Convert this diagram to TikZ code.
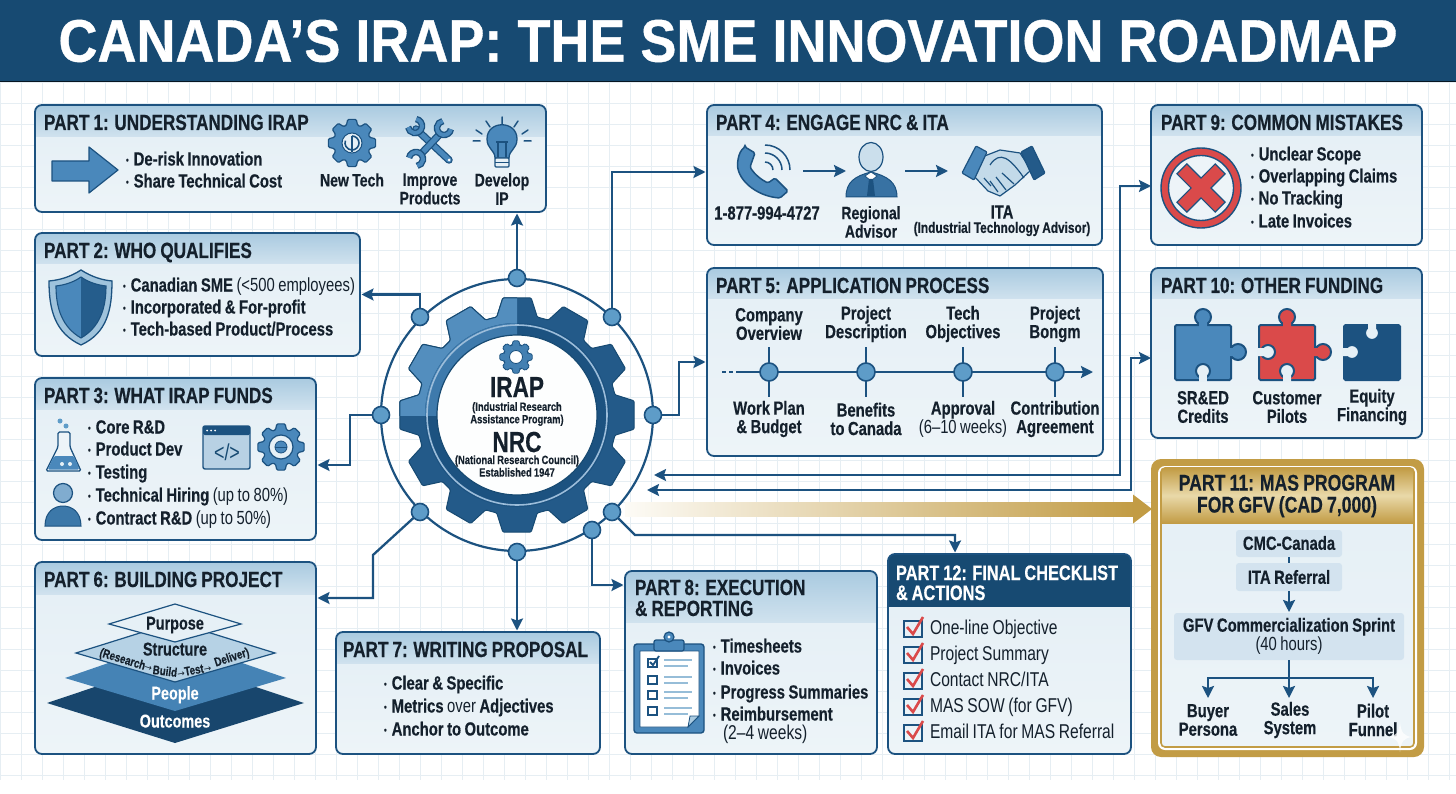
\documentclass[tikz,border=0pt]{standalone}
\usepackage{fontspec}
\setmainfont[FakeStretch=0.78,WordSpace=0.85,BoldFeatures={FakeBold=0.35}]{Liberation Sans}
\newfontfamily\titlefont[FakeStretch=0.9,BoldFeatures={FakeBold=0.6}]{Liberation Sans}
\newfontfamily\arrfont{DejaVu Sans}
\usetikzlibrary{arrows.meta,calc}
\definecolor{ink}{HTML}{14202C}
\definecolor{navy}{HTML}{174A72}
\definecolor{line}{HTML}{1C5280}
\definecolor{mid}{HTML}{4A88BB}
\definecolor{dot}{HTML}{5E9CC8}
\definecolor{gridc}{HTML}{E6EEF3}
\definecolor{hdrA}{HTML}{A9CAE0}
\definecolor{hdrB}{HTML}{D0E2EE}
\definecolor{bodyA}{HTML}{E6F0F6}
\definecolor{bodyB}{HTML}{EDF4F8}
\definecolor{gold}{HTML}{C29C45}
\definecolor{goldL}{HTML}{E9D9A9}
\definecolor{red1}{HTML}{DA4A4A}
\definecolor{soft}{HTML}{D3E3EF}
\newcounter{tn}
\tikzset{
  txt/.style={inner sep=0,outer sep=0,align=center,text=ink,font=\bfseries\fontsize{19}{18.5}\selectfont},
  reg/.style={inner sep=0,outer sep=0,align=left,text=ink,font=\fontsize{20}{18.5}\selectfont},
  ttl/.style={inner sep=0,outer sep=0,anchor=base west,yshift=-8pt,align=left,text=ink,font=\bfseries\fontsize{22}{21}\selectfont},
  blt/.style={inner sep=0,outer sep=0,anchor=base west,yshift=-6.5pt,align=left,text=ink,font=\bfseries\fontsize{19}{18.5}\selectfont},
  panelbox/.style={draw=line,line width=1.8pt,rounded corners=7pt,inner sep=0,outer sep=0,anchor=north west},
  conn/.style={draw=line,line width=2.3pt,-{Stealth[length=12pt,width=12pt,inset=2pt]},shorten >=1.5pt},
  conn2/.style={draw=line,line width=2.3pt,{Stealth[length=12pt,width=12pt,inset=2pt]}-{Stealth[length=12pt,width=12pt,inset=2pt]}},
  plain/.style={draw=line,line width=2.3pt},
  hubdot/.style={circle,fill=dot,draw=line,line width=1.6pt,minimum size=17pt,inner sep=0,outer sep=0},
  tdot/.style={circle,fill=dot,draw=line,line width=1.6pt,minimum size=18pt,inner sep=0,outer sep=0},
  ico/.style={fill=mid,draw=line,line width=1.2pt,line join=round},
  softbox/.style={fill=soft,rounded corners=3pt,inner sep=0,outer sep=0,anchor=north west},
  big/.style={font=\bfseries\fontsize{29}{29}\selectfont,text height=20pt,text depth=0pt},
  small/.style={font=\bfseries\fontsize{12}{12.5}\selectfont},
  lab/.style={font=\bfseries\fontsize{18}{18.5}\selectfont},
  pyr/.style={font=\bfseries\fontsize{18.5}{18.5}\selectfont,text height=13pt,text depth=0pt},
  pyrs/.style={font=\bfseries\fontsize{12.5}{12.5}\selectfont},
}
\newcommand\T[4][]{\stepcounter{tn}\node[txt,#1] (t\arabic{tn}) at (#2,#3) {#4};}
\newcommand\R[4][]{\stepcounter{tn}\node[reg,#1] (t\arabic{tn}) at (#2,#3) {#4};}
\newcommand\bu{\raisebox{2pt}{\fontsize{10}{10}\selectfont\textbullet}\hspace{5pt}}
\newcommand\ar{{\arrfont\mdseries\fontsize{9}{9}\selectfont →}}
\newcommand\B[3]{\stepcounter{tn}\node[blt] (t\arabic{tn}) at (#1,#2) {\bu #3};}
\newcommand\Ttl[4][]{\stepcounter{tn}\node[ttl,#1] (t\arabic{tn}) at (#2,#3) {#4};}
\newcommand\rg[1]{{\mdseries #1}}
\newcommand\panel[6]{%
  \begin{scope}
    \clip[rounded corners=7pt] (#2,#3) rectangle (#4,#5);
    \fill[top color=bodyA,bottom color=bodyB] (#2,#6) rectangle (#4,#5);
    \fill[top color=hdrA,bottom color=hdrB] (#2,#3) rectangle (#4,#6);
  \end{scope}
  \pgfmathsetmacro\pw{#4-#2}\pgfmathsetmacro\ph{#5-#3}
  \node[panelbox,minimum width=\pw pt,minimum height=\ph pt] (#1) at (#2,#3) {};
}
\newcommand\drawgear[6]{%
  \pgfmathsetmacro\gst{360/#6}
  \begin{scope}[shift={(#2,#3)}]
    \path[#1,rounded corners=1.2pt] ({-90-\gst/2}:#5)
      \foreach \i in {1,...,#6}{
        -- ({-90+(\i-1)*\gst-.39*\gst}:#5)
        -- ({-90+(\i-1)*\gst-.23*\gst}:#4)
        -- ({-90+(\i-1)*\gst+.23*\gst}:#4)
        -- ({-90+(\i-1)*\gst+.39*\gst}:#5)
      } -- cycle;
  \end{scope}
}
\newcommand\jaw[4]{%
  \draw[line,line width=6.5pt] ($(#1,#2)+(#3+55:#4)$) arc[start angle=#3+55,end angle=#3+305,radius=#4];
  \draw[mid,line width=3.8pt] ($(#1,#2)+(#3+55:#4)$) arc[start angle=#3+55,end angle=#3+305,radius=#4];
}
\newcommand\piece[3]{\filldraw[#3,draw=line,line width=2pt,rounded corners=1.5pt] (#1,#2) rectangle ++(56,55);}
\begin{document}
\begin{tikzpicture}[x=1pt,y=-1pt]
\useasboundingbox (0,0) rectangle (1456,794);
\fill[white] (0,0) rectangle (1456,794);
\foreach \x in {0,21,...,1456}{\draw[gridc,line width=.7pt] (\x,82) -- (\x,780);}
\foreach \y in {82,103,...,780}{\draw[gridc,line width=.7pt] (0,\y) -- (1456,\y);}
% title
\fill[navy] (0,0) rectangle (1456,82);
\draw[line width=1pt,black!70!navy] (0,82) -- (1456,82);
\node[inner sep=0,text=white,font=\titlefont\bfseries\fontsize{60}{60}\selectfont] (title) at (728,41) {CANADA’S IRAP: THE SME INNOVATION ROADMAP};

% panels
\panel{p1}{35}{105}{546}{212}{137}
\panel{p2}{35}{233}{360}{356}{264}
\panel{p3}{35}{378}{316}{540}{409}
\panel{p6}{35}{562}{316}{754}{594}
\panel{p7}{336}{632}{600}{754}{663}
\panel{p8}{625}{571}{877}{754}{622}
\panel{p4}{707}{105}{1102}{245}{136}
\panel{p5}{707}{268}{1103}{456}{299}
\panel{p9}{1151}{105}{1422}{245}{136}
\panel{p10}{1151}{268}{1422}{438}{299}
\begin{scope}
  \clip[rounded corners=7pt] (888,554) rectangle (1131,754);
  \fill[top color=bodyA,bottom color=bodyB] (888,607) rectangle (1131,754);
  \fill[navy] (888,554) rectangle (1131,607);
\end{scope}
\node[panelbox,minimum width=243pt,minimum height=200pt] (p12) at (888,554) {};
\fill[gold,rounded corners=10pt] (1151,459) rectangle (1424,757);
\fill[white,rounded corners=7pt] (1158,466) rectangle (1417,750);
\begin{scope}
  \clip[rounded corners=4pt] (1161,468) rectangle (1414,747);
  \fill[top color=bodyA,bottom color=bodyB] (1161,523) rectangle (1414,747);
  \shade[top color=gold,bottom color=gold,middle color=goldL] (1161,468) rectangle (1414,523);
\end{scope}
\node[panelbox,draw=gold,line width=1.6pt,rounded corners=4pt,minimum width=253pt,minimum height=279pt] (p11) at (1161,468) {};

% hub
\node[circle,draw=line,line width=2.2pt,minimum size=272pt,inner sep=0] (ring) at (517,415) {};
\drawgear{fill=line!85!mid,draw=navy,line width=1pt}{517}{415}{118}{100}{12}
\begin{scope}
  \clip (392,290) rectangle (517,415);
  \drawgear{fill=mid!95!white,draw=navy,line width=1pt}{517}{415}{118}{100}{12}
\end{scope}
\fill[line] (517,415) circle[radius=92];
\begin{scope}
  \clip (425,323) rectangle (517,415);
  \fill[mid!75!line] (517,415) circle[radius=92];
\end{scope}
\draw[white!45!mid,line width=1.6pt] (517,415) circle[radius=90];
\node[circle,fill=white!92!bodyA,draw=navy,line width=1.2pt,minimum size=160pt,inner sep=0] (core) at (517,415) {};
\drawgear{fill=mid!85!line,draw=line,line width=.8pt}{516}{357}{16.5}{12.5}{8}
\fill[white,draw=line,line width=.8pt] (516,357) circle[radius=6.5];
\T[big]{517}{387}{IRAP}
\T[small]{517}{414}{(Industrial Research\\Assistance Program)}
\T[big]{517}{442}{NRC}
\T[small]{517}{466}{(National Research Council)\\Established 1947}
\node[hubdot] (d1) at (517,278) {};
\node[hubdot] (d2) at (420,317) {};
\node[hubdot] (d3) at (612,317) {};
\node[hubdot] (d4) at (381,415) {};
\node[hubdot] (d5) at (653,415) {};
\node[hubdot] (d6) at (420,512) {};
\node[hubdot] (d7) at (612,512) {};
\node[hubdot] (d8) at (517,552) {};
\node[hubdot] (d9) at (592,530) {};

\coordinate (w1) at (350,465);
\coordinate (w2a) at (373,555);
\coordinate (w2b) at (373,598);
\coordinate (w3) at (592,585);
\coordinate (w4) at (635,535);
\coordinate (w4b) at (955,535);
\coordinate (w5) at (612,172);
\coordinate (w6) at (679,362);
\coordinate (h1) at (654,475);
\coordinate (h2) at (647,490);
\coordinate (v1a) at (1120,475);
\coordinate (v1b) at (1120,186);
\coordinate (v2a) at (1131,490);
\coordinate (v2b) at (1131,358);
\draw[conn] (d1) -- (d1 |- p1.south);
\draw[conn] (d2) |- (p2.east);
\draw[conn] (d4) -| (w1) -- (w1 -| p3.east);
\draw[conn] (d6) -- (w2a) -- (w2b) -- (w2b -| p6.east);
\draw[conn] (d8) -- (d8 |- p7.north);
\draw[conn] (d9) -- (w3) -- (w3 -| p8.west);
\draw[conn] (d7) -- (w4) -- (w4b) -- (w4b |- p12.north);
\draw[conn] (d3) -- (w5) -- (w5 -| p4.west);
\draw[conn] (d5) -| (w6) -- (w6 -| p5.west);
\draw[conn2] (h1) -- (v1a) -- (v1b) -- (v1b -| p9.west);
\draw[conn2] (h2) -- (v2a) -- (v2b) -- (v2b -| p10.west);
% gold arrow
\shade[left color=white!90!goldL,right color=gold] (625,502) rectangle (1134,516);
\coordinate (gt) at (1152,509);
\fill[gold] (1133,494.5) -- (gt) -- (1133,523.5) -- cycle;

% P1
\Ttl{44}{122}{PART 1: UNDERSTANDING IRAP}
\draw[ico] (52,161) -- (89,161) -- (89,147) -- (118,170) -- (89,193) -- (89,181) -- (52,181) -- cycle;
\B{126}{159}{De-risk Innovation}
\B{126}{181}{Share Technical Cost}
\drawgear{ico}{352}{143}{24}{18.5}{8}
\fill[bodyA,draw=line,line width=1pt] (352,143) circle[radius=10];
\draw[line,line width=1.6pt] (352,136) arc[start angle=-90,end angle=200,radius=7];
\draw[line,line width=1.6pt] (352,152) -- (352,136);
\T[lab]{352}{180}{New Tech}
\draw[line,line width=7.5pt,line cap=round] (416,129) -- (449,160);
\draw[mid,line width=5pt,line cap=round] (416,129) -- (449,160);
\fill[white] (449,160) circle[radius=1.5];
\jaw{415}{126}{-135}{7}
\draw[line,line width=7.5pt] (441,133) -- (420,155);
\draw[mid,line width=5pt] (441,133) -- (420,155);
\jaw{444}{128}{-45}{7}
\jaw{416}{159}{135}{7}
\T[lab]{430}{189}{Improve\\Products}
\draw[line,line width=1.5pt,line cap=round]
  (502,124)--(502,117) (490,127)--(486,121) (514,127)--(518,121)
  (482,134)--(476,130) (522,134)--(528,130) (480,141)--(473,141) (524,141)--(531,141);
\fill[mid,draw=line,line width=1.3pt] (495,158) .. controls (495,150) and (487,149) .. (487,139) .. controls (487,120) and (517,120) .. (517,139) .. controls (517,149) and (509,150) .. (509,158) -- cycle;
\draw[line,line width=1.2pt] (498,158) -- (498,142) (506,158) -- (506,142) (496,142) -- (508,142);
\fill[bodyA,draw=line,line width=1.2pt,rounded corners=1pt] (495,158) rectangle (509,167);
\draw[line,line width=1pt] (495,162.5) -- (509,162.5);
\T[lab]{502}{189}{Develop\\IP}

% P2
\Ttl{44}{250}{PART 2: WHO QUALIFIES}
\fill[hdrA!90!mid,draw=line,line width=1.3pt] (81,270) .. controls (70,277) and (60,280) .. (49,281) .. controls (49,310) and (55,333) .. (81,345) .. controls (107,333) and (112,310) .. (112,281) .. controls (102,280) and (92,277) .. (81,270) -- cycle;
\fill[mid] (81,277) .. controls (74,282) and (65,285) .. (56,286) .. controls (56,308) and (62,327) .. (81,338) -- cycle;
\fill[line!80!mid] (81,277) .. controls (88,282) and (97,285) .. (106,286) .. controls (106,308) and (100,327) .. (81,338) -- cycle;
\draw[line,line width=1.1pt] (81,277) .. controls (74,282) and (65,285) .. (56,286) .. controls (56,308) and (62,327) .. (81,338) .. controls (100,327) and (106,308) .. (106,286) .. controls (97,285) and (88,282) .. (81,277) -- cycle;
\B{123}{285}{Canadian SME \rg{(<500 employees)}}
\B{123}{307}{Incorporated \& For-profit}
\B{123}{329}{Tech-based Product/Process}

% P3
\Ttl{44}{395}{PART 3: WHAT IRAP FUNDS}
\fill[dot] (60,421) circle[radius=2.5] (66,426) circle[radius=2.5];
\fill[bodyB,draw=line,line width=1.3pt,rounded corners=1.5pt] (58,432) -- (70,432) -- (70,447) -- (81,471) -- (46,471) -- (58,447) -- cycle;
\fill[mid,rounded corners=1.5pt] (54,456) -- (74,456) -- (79.5,469.5) -- (47.5,469.5) -- cycle;
\fill[bodyA] (62,464) circle[radius=2] (70,464) circle[radius=2];
\B{88}{427}{Core R\&D}
\B{88}{449}{Product Dev}
\B{88}{472}{Testing}
\B{88}{495}{Technical Hiring \rg{(up to 80\%)}}
\B{88}{518}{Contract R\&D \rg{(up to 50\%)}}
\fill[soft!80!mid,draw=line,line width=1.4pt,rounded corners=2pt] (203,426) rectangle (250,469);
\fill[line,rounded corners=1.5pt] (203,426) rectangle (250,435);
\fill[white] (207,430.5) circle[radius=1] (211,430.5) circle[radius=1] (215,430.5) circle[radius=1];
\R[font=\fontsize{23}{23}\selectfont,text=navy]{227}{452}{</>}
\drawgear{ico}{281}{447}{23.5}{18}{8}
\fill[bodyA,draw=line,line width=1.2pt] (281,447) circle[radius=12];
\fill[mid,draw=line,line width=.8pt] (281,447) circle[radius=6];
\draw[line,line width=.9pt] (275,447) -- (287,447);
\fill[white!30!mid,draw=line,line width=1.2pt] (63,493) circle[radius=9.5];
\fill[mid!70!line,draw=line,line width=1pt] (45,526) .. controls (45,512) and (54,506) .. (63,506) .. controls (72,506) and (81,512) .. (81,526) -- cycle;

% P6
\Ttl{44}{579}{PART 6: BUILDING PROJECT}
\fill[line!85!black] (47,703) -- (175,660) -- (304,703) -- (175,743) -- cycle;
\fill[mid!90!line] (65,678) -- (175,640) -- (286,678) -- (175,711) -- cycle;
\fill[hdrA!85!white,draw=line,line width=1.2pt] (76,653) -- (175,622) -- (275,653) -- (175,682) -- cycle;
\fill[bodyA,draw=line,line width=1.2pt] (109,624) -- (175,604) -- (241,624) -- (175,642) -- cycle;
\T[pyr]{175}{623}{Purpose}
\T[pyr]{175}{649}{Structure}
\T[pyrs,rotate=-17]{126}{661}{(Research\ar}
\T[pyrs,rotate=-7]{165}{671}{Build}
\T[pyrs,rotate=10]{194}{670}{\ar Test\ar}
\T[pyrs,rotate=18]{232}{658}{Deliver)}
\T[pyr,text=white]{175}{693}{People}
\T[pyr,text=white]{175}{721}{Outcomes}

% P7
\Ttl{343}{649}{PART 7: WRITING PROPOSAL}
\B{384}{683}{Clear \& Specific}
\B{384}{706}{Metrics \rg{over} Adjectives}
\B{384}{729}{Anchor to Outcome}

% P8
\Ttl{635}{587}{PART 8: EXECUTION}
\Ttl{635}{608}{\& REPORTING}
\fill[mid,draw=line,line width=1.4pt,rounded corners=3pt] (634,644) rectangle (704,733);
\fill[white,draw=line,line width=.8pt] (640,651) -- (699,651) -- (699,716) -- (688,727) -- (640,727) -- cycle;
\fill[hdrA,draw=line,line width=.8pt] (688,727) -- (690,716) -- (699,716) -- cycle;
\fill[mid,draw=line,line width=1.2pt,rounded corners=2pt] (654,640) rectangle (684,651);
\fill[mid,draw=line,line width=1.2pt] (669,637) circle[radius=5];
\fill[white] (669,637) circle[radius=1.6];
\foreach \yy in {663,680,695,711}{
  \draw[line,line width=1.2pt] (648,{\yy-4}) rectangle (657,{\yy+4});
  \draw[hdrA!80!mid,line width=1.2pt] (664,{\yy-3}) -- (692,{\yy-3}) (664,{\yy+3}) -- (688,{\yy+3});
}
\draw[line,line width=1.8pt] (650,662) -- (653,665) -- (659,656);
\B{713}{646}{Timesheets}
\B{713}{668}{Invoices}
\B{713}{692}{Progress Summaries}
\B{713}{714}{Reimbursement}
\R[anchor=base west,yshift=-6.5pt]{723}{733}{(2–4 weeks)}

% P12
\Ttl[text=white,font=\bfseries\fontsize{21}{21}\selectfont]{896}{572}{PART 12: FINAL CHECKLIST}
\Ttl[text=white,font=\bfseries\fontsize{21}{21}\selectfont]{896}{592}{\& ACTIONS}
\foreach \yy/\tx in {628/{One-line Objective},654/{Project Summary},680/{Contact NRC/ITA},706/{MAS SOW (for GFV)},732/{Email ITA for MAS Referral}}{
  \draw[line,line width=1.3pt] (904,{\yy-7}) rectangle (922,{\yy+9});
  \draw[red1,line width=2.6pt] (907,{\yy-1}) -- (913,{\yy+6}) -- (923,{\yy-11});
  \R[anchor=base west,yshift=-6.5pt]{930}{\yy}{\tx}
}

% P4
\Ttl{716}{122}{PART 4: ENGAGE NRC \& ITA}
\fill[mid,draw=line,line width=1.5pt,rounded corners=1.5pt] (745,147) -- (755,153) -- (750,167) .. controls (755,175) and (762,180) .. (768,183) -- (775,178) -- (788,191) -- (780,198) .. controls (755,196) and (735,178) .. (738,160) .. controls (739,154) and (741,150) .. cycle;
\draw[line,line width=1.5pt] (765,145) arc[start angle=-90,end angle=0,radius=25]
  (765,153) arc[start angle=-90,end angle=0,radius=17]
  (765,162) arc[start angle=-90,end angle=0,radius=8];
\T{767}{213}{1-877-994-4727}
\coordinate (ph) at (803,171);
\coordinate (ad) at (846,171);
\coordinate (ad2) at (905,171);
\coordinate (ha) at (948,171);
\draw[conn,shorten >=0pt] (ph) -- (ad);
\draw[conn,shorten >=0pt] (ad2) -- (ha);
\fill[mid!60!line,draw=line,line width=1pt] (846,197) .. controls (846,182) and (855,176) .. (871,172) .. controls (887,176) and (897,182) .. (897,197) -- cycle;
\fill[white,draw=line,line width=.8pt] (865,176) -- (871,181) -- (877,176) -- (871,172) -- cycle;
\fill[line] (869,179) -- (873,179) -- (875,196) -- (867,196) -- cycle;
\fill[white!40!hdrA,draw=line,line width=1.2pt] (871,157) ellipse[x radius=12,y radius=14.5];
\T[lab]{871}{222}{Regional\\Advisor}
\fill[hdrA!70!white,draw=line,line width=1.2pt,line join=round] (982,157) -- (1000,150) -- (1020,153) -- (1031,170) -- (1015,185) -- (1000,196) -- (988,191) -- (973,175) -- cycle;
\draw[line,line width=1.2pt] (990,165) .. controls (1000,150) and (1010,158) .. (1024,178)
 (991,186) -- (984,178) (998,192) -- (990,181) (1006,190) -- (996,177) (1014,184) -- (1002,173);
\fill[mid,draw=line,line width=1.2pt,rounded corners=1pt] (962,173) -- (976,146) -- (987,152) -- (974,180) -- cycle;
\fill[line!85!mid,draw=line,line width=1.2pt,rounded corners=1pt] (1032,146) -- (1045,173) -- (1034,180) -- (1021,152) -- cycle;
\T{1002}{212}{ITA}
\T[font=\bfseries\fontsize{15.2}{15.5}\selectfont]{1002}{229}{(Industrial Technology Advisor)}

% P5
\Ttl{716}{285}{PART 5: APPLICATION PROCESS}
\coordinate (tl0) at (737,372);
\coordinate (tl1) at (1093,372);
\draw[line,line width=2.4pt,dash pattern=on 4pt off 3pt] (722,372) -- (tl0);
\foreach \xx in {769,866,963,1055}{\draw[line,line width=2pt] (\xx,347) -- (\xx,397);}
\draw[conn,shorten >=0pt] (tl0) -- (tl1);
\node[tdot] (s1) at (769,372) {};
\node[tdot] (s2) at (866,372) {};
\node[tdot] (s3) at (963,372) {};
\node[tdot] (s4) at (1055,372) {};
\T{769}{324}{Company\\Overview}
\T{866}{324}{Project\\Description}
\T{963}{324}{Tech\\Objectives}
\T{1055}{324}{Project\\Bongm}
\T{769}{419}{Work Plan\\\& Budget}
\T{866}{419}{Benefits\\to Canada}
\T{963}{419}{Approval\\\rg{(6–10 weeks)}}
\T{1055}{419}{Contribution\\Agreement}

% P9
\Ttl{1161}{122}{PART 9: COMMON MISTAKES}
\fill[red1,draw=line,line width=1.4pt] (1201,188) circle[radius=40];
\fill[bodyB,draw=line,line width=1.4pt] (1201,188) circle[radius=32.5];
\begin{scope}[shift={(1201,188)},rotate=45]
  \filldraw[red1,draw=line,line width=1.2pt] (-27,-7) -- (-7,-7) -- (-7,-27) -- (7,-27) -- (7,-7) -- (27,-7) -- (27,7) -- (7,7) -- (7,27) -- (-7,27) -- (-7,7) -- (-27,7) -- cycle;
\end{scope}
\B{1251}{154}{Unclear Scope}
\B{1251}{176}{Overlapping Claims}
\B{1251}{198}{No Tracking}
\B{1251}{221}{Late Invoices}

% P10
\Ttl{1161}{285}{PART 10: OTHER FUNDING}
\filldraw[mid,draw=line,line width=2pt] (1203,317) circle[radius=8] (1238,352) circle[radius=8];
\piece{1175}{325}{mid}
\fill[mid] (1199,320) rectangle (1207,327) (1228,348) rectangle (1233,356);
\fill[bodyA,draw=line,line width=2pt] (1203,371) circle[radius=7];
\fill[bodyA] (1199,372) rectangle (1207,382);
\filldraw[red1,draw=line,line width=2pt] (1287,317) circle[radius=8] (1323,352) circle[radius=8];
\piece{1259}{325}{red1}
\fill[red1] (1283,320) rectangle (1291,327) (1313,348) rectangle (1318,356);
\fill[bodyA,draw=line,line width=2pt] (1287,371) circle[radius=7] (1268,352) circle[radius=7];
\fill[bodyA] (1283,372) rectangle (1291,382) (1257,348) rectangle (1265,356);
\piece{1344}{325}{line}
\fill[bodyA,draw=line,line width=2pt] (1372,333) circle[radius=7] (1352,352) circle[radius=7];
\fill[bodyA] (1368,323) rectangle (1376,332) (1342,348) rectangle (1350,356);
\T{1203}{407}{SR\&ED\\Credits}
\T{1287}{407}{Customer\\Pilots}
\T{1372}{407}{Equity\\Financing}

% P11
\T[font=\bfseries\fontsize{22.6}{22}\selectfont]{1287}{496}{PART 11: MAS PROGRAM\\FOR GFV (CAD 7,000)}
\node[softbox,minimum width=106pt,minimum height=27pt] (b1) at (1236,530) {};
\node[softbox,minimum width=106pt,minimum height=28pt] (b2) at (1236,563) {};
\node[softbox,minimum width=230pt,minimum height=47pt] (b3) at (1174,613) {};
\T{1289}{543}{CMC-Canada}
\T{1289}{577}{ITA Referral}
\T{1289}{636}{GFV Commercialization Sprint\\\rg{(40 hours)}}
\draw[line,line width=1.2pt] (b1) -- (b2);
\draw[conn,shorten >=1pt] (b2.south) -- (b2.south |- b3.north);
\coordinate (br) at (1289,678);
\coordinate (bl0) at (1208,678);
\coordinate (bl1) at (1373,678);
\coordinate (e0) at (1208,698);
\coordinate (e1) at (1289,698);
\coordinate (e2) at (1373,698);
\draw[plain] (b3.south -| br) -- (br);
\draw[conn,shorten >=0pt] (br) -- (e1);
\draw[conn,shorten >=0pt] (br) -- (bl0) -- (e0);
\draw[conn,shorten >=0pt] (br) -- (bl1) -- (e2);
\T{1208}{720}{Buyer\\Persona}
\T{1290}{720}{Sales\\System}
\T{1373}{720}{Pilot\\Funnel}
\fill[white,opacity=.75] (1400,722) .. controls (1401,733) and (1404,736) .. (1412,737) .. controls (1404,738) and (1401,741) .. (1400,752) .. controls (1399,741) and (1396,738) .. (1388,737) .. controls (1396,736) and (1399,733) .. (1400,722) -- cycle;
\end{tikzpicture}
\end{document}
